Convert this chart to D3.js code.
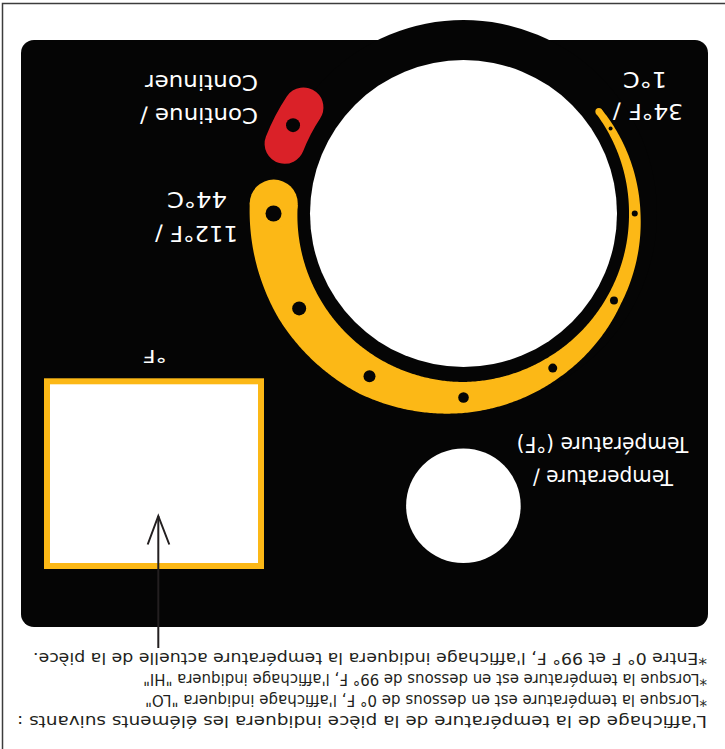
<!DOCTYPE html>
<html>
<head>
<meta charset="utf-8">
<script src="https://cdn.jsdelivr.net/npm/d3@7"></script>
<style>
  html, body { margin: 0; padding: 0; background: #ffffff; }
  svg { display: block; }
</style>
</head>
<body>
<div id="chart"></div>
<script>
// ---------- data ----------
// dial band: sample angles (deg, 0 = east, clockwise) with inner/outer radii
const bandAngles = [-37, 0, 30, 60, 90, 120, 150, 183];
const bandOuter  = [173, 177, 181.5, 190, 199.5, 208, 212.5, 214];
const bandInner  = [166, 165.5, 166, 167, 168.5, 168, 167, 166];
// setting marks on the dial
const markAngles = [-30, 0, 30, 60, 90, 120, 150, 180];
const markSizes  = [2, 3, 4, 4.5, 5.3, 6, 7, 8];
// labels
const lowLabel      = ["34°F /", "1°C"];
const highLabel     = ["112°F /", "44°C"];
const continueLabel = ["Continue /", "Continuer"];
const tempLabel     = ["Temperature /", "Température (°F)"];
const unitLabel     = ["°F"];
const notes = [
  "L'affichage de la température de la pièce indiquera les éléments suivants :",
  "*Lorsque la température est en dessous de 0° F, l'affichage indiquera \"LO\"",
  "*Lorsque la température est en dessous de 99° F, l'affichage indiquera \"HI\"",
  "*Entre 0° F et 99° F, l'affichage indiquera la température actuelle de la pièce."
];

// ---------- drawing ----------
const W = 725, H = 749;
const BLACK = "#050505", YELLOW = "#FCB816", RED = "#DA2128";
const FONT = "'DejaVu Sans', 'Liberation Sans', sans-serif";
const rad = d => d * Math.PI / 180;
const cx = 463.5, cy = 213.5;

const svg = d3.select("#chart").append("svg")
  .attr("width", W).attr("height", H).attr("viewBox", `0 0 ${W} ${H}`);

// frame lines
svg.append("path").attr("d", `M2.5,${H} L2.5,3.5 L${W},3.5`)
  .attr("fill", "none").attr("stroke", "#3c3c3c").attr("stroke-width", 1.5);

// panel
svg.append("rect").attr("x", 21).attr("y", 40).attr("width", 687).attr("height", 587)
  .attr("rx", 13).attr("fill", BLACK);
svg.append("circle").attr("cx", cx).attr("cy", cy).attr("r", 193.5).attr("fill", BLACK);

// knob
svg.append("circle").attr("cx", cx).attr("cy", cy).attr("r", 153.5).attr("fill", "#fff");

// band
const outerScale = d3.scaleLinear().domain(bandAngles).range(bandOuter);
const innerScale = d3.scaleLinear().domain(bandAngles).range(bandInner);
const thetas = d3.range(bandAngles[0], bandAngles[bandAngles.length - 1] + 0.01, 0.5);
const area = d3.areaRadial()
  .angle(t => rad(t + 90))
  .innerRadius(t => innerScale(t))
  .outerRadius(t => outerScale(t));
const dial = svg.append("g").attr("transform", `translate(${cx},${cy})`);
dial.append("path").attr("d", area(thetas)).attr("fill", YELLOW);
[bandAngles[0], bandAngles[bandAngles.length - 1]].forEach(t => {
  const rm = (innerScale(t) + outerScale(t)) / 2;
  const [x, y] = d3.pointRadial(rad(t + 90), rm);
  dial.append("circle").attr("cx", x).attr("cy", y)
    .attr("r", (outerScale(t) - innerScale(t)) / 2).attr("fill", YELLOW);
});
markAngles.forEach((t, i) => {
  const rm = (innerScale(t) + outerScale(t)) / 2;
  const [x, y] = d3.pointRadial(rad(t + 90), rm);
  dial.append("circle").attr("cx", x).attr("cy", y).attr("r", markSizes[i]).attr("fill", BLACK);
});

// red continue button
const redArc = d3.arc().innerRadius(172).outerRadius(212)
  .startAngle(rad(-164.7 + 90)).endAngle(rad(-140.5 + 90)).cornerRadius(20);
dial.append("path").attr("d", redArc()).attr("fill", RED);
{
  const [x, y] = d3.pointRadial(rad(-152.6 + 90), 192);
  dial.append("circle").attr("cx", x).attr("cy", y).attr("r", 7).attr("fill", BLACK);
}

// temperature button
svg.append("circle").attr("cx", 463.4).attr("cy", 505.8).attr("r", 57.3).attr("fill", "#fff");

// display
svg.append("rect").attr("x", 47).attr("y", 381.3).attr("width", 214).attr("height", 184.7)
  .attr("fill", "#fff").attr("stroke", YELLOW).attr("stroke-width", 6);

// arrow
svg.append("line").attr("x1", 158.3).attr("x2", 158.3).attr("y1", 516).attr("y2", 648)
  .attr("stroke", "#231f20").attr("stroke-width", 2);
svg.append("path").attr("d", "M147.7,544.5 L158.3,516 L169.3,544.5")
  .attr("fill", "none").attr("stroke", "#231f20").attr("stroke-width", 2);

// upside-down text helper
function flipText(str, x, y, size, anchor, len, color) {
  const t = svg.append("text")
    .attr("transform", `translate(${x},${y}) rotate(180)`)
    .attr("text-anchor", anchor)
    .attr("font-family", FONT)
    .attr("font-size", size)
    .attr("fill", color)
    .text(str);
  if (len) t.attr("textLength", len).attr("lengthAdjust", "spacingAndGlyphs");
  return t;
}

flipText(lowLabel[0], 648, 104, 22, "middle", 70, "#fff");
flipText(lowLabel[1], 645, 72, 22, "middle", 44, "#fff");
flipText(continueLabel[0], 258, 108, 22, "start", 118, "#fff");
flipText(continueLabel[1], 258, 75, 22, "start", 113, "#fff");
flipText(highLabel[0], 196.5, 226, 22, "middle", 83, "#fff");
flipText(highLabel[1], 197, 192, 22, "middle", 60, "#fff");
flipText(tempLabel[0], 603, 470, 22, "middle", 140, "#fff");
flipText(tempLabel[1], 602.5, 437, 22, "middle", 171.6, "#fff");
flipText(unitLabel[0], 154.7, 350, 17.5, "middle", 24, "#fff");

const noteLens = [690, 562, 564, 674];
const noteBase = [716, 695, 674, 652.5];
notes.forEach((s, i) => flipText(s, 707, noteBase[i], 16.5, "start", noteLens[i], "#231f20"));
</script>
</body>
</html>
